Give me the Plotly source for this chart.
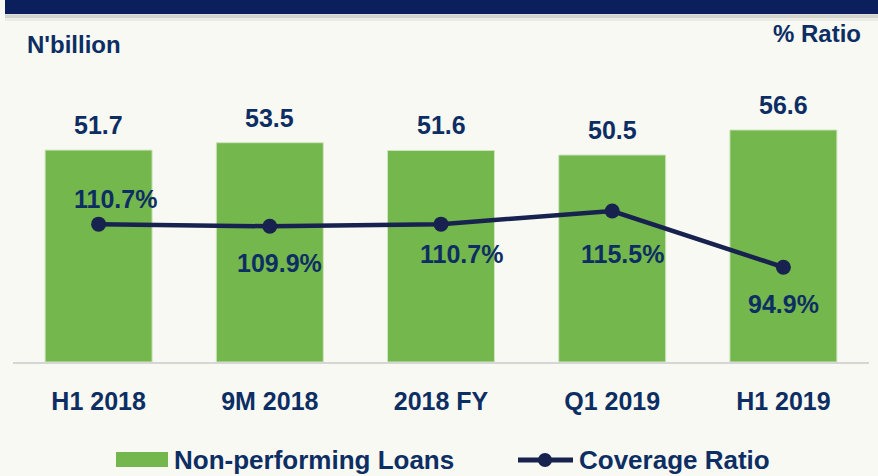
import plotly.graph_objects as go

# Data
periods = ["H1 2018", "9M 2018", "2018 FY", "Q1 2019", "H1 2019"]
npl_bn = [51.7, 53.5, 51.6, 50.5, 56.6]
coverage_pct = [110.7, 109.9, 110.7, 115.5, 94.9]

# Canvas and plot-area geometry (pixels)
W, H = 878, 476
ML, MR, MT, MB = 13, 9, 15, 114
PW, PH = W - ML - MR, H - MT - MB

NAVY = "#0d2e63"
LINE = "#17224f"
GREEN = "#74b74c"
FONT = "Liberation Sans, Arial, sans-serif"


def px(x):
    return (x - ML) / PW


def py(y):
    return (H - MB - y) / PH


fig = go.Figure()

fig.add_trace(go.Bar(
    x=periods, y=npl_bn, name="Non-performing Loans",
    marker=dict(color=GREEN, line=dict(color="#cfe5c0", width=1)),
    width=0.625, showlegend=False, hoverinfo="x+y",
))

fig.add_trace(go.Scatter(
    x=periods, y=coverage_pct, name="Coverage Ratio", yaxis="y2",
    mode="lines+markers",
    line=dict(color=LINE, width=4.5),
    marker=dict(color=LINE, size=15),
    showlegend=False,
))

annotations = []

# Bar value labels
for p, v in zip(periods, npl_bn):
    annotations.append(dict(
        x=p, y=v, xref="x", yref="y", text=f"<b>{v:.1f}</b>",
        showarrow=False, yanchor="middle", yshift=25,
        font=dict(family=FONT, size=25, color=NAVY),
    ))

# Coverage ratio labels (pixel offsets from each marker)
label_offsets = [(17, 25), (10, -37), (20, -30), (10, -43), (0, -37)]
for p, v, (dx, dy) in zip(periods, coverage_pct, label_offsets):
    annotations.append(dict(
        x=p, y=v, xref="x", yref="y2", text=f"<b>{v:.1f}%</b>",
        showarrow=False, yanchor="middle", xshift=dx, yshift=dy,
        font=dict(family=FONT, size=25, color=NAVY),
    ))

# Axis unit captions
annotations.append(dict(
    x=px(25), y=py(45), xref="paper", yref="paper", text="<b>N'billion</b>",
    showarrow=False, xanchor="left", yanchor="middle",
    font=dict(family=FONT, size=24, color=NAVY),
))
annotations.append(dict(
    x=px(863), y=py(34), xref="paper", yref="paper", text="<b>% Ratio</b>",
    showarrow=False, xanchor="right", yanchor="middle",
    font=dict(family=FONT, size=24, color=NAVY),
))

# Legend entries
annotations.append(dict(
    x=px(172), y=py(460), xref="paper", yref="paper",
    text="<b>Non-performing Loans</b>",
    showarrow=False, xanchor="left", yanchor="middle",
    font=dict(family=FONT, size=26, color=NAVY),
))
annotations.append(dict(
    x=px(577), y=py(460), xref="paper", yref="paper",
    text="<b>Coverage Ratio</b>",
    showarrow=False, xanchor="left", yanchor="middle",
    font=dict(family=FONT, size=26, color=NAVY),
))

shapes = [
    # header banner with soft shadow
    dict(type="rect", xref="paper", yref="paper", x0=px(5), x1=px(W + 2),
         y0=py(21), y1=py(15), fillcolor="rgba(0,0,0,0.05)", line_width=0, layer="below"),
    dict(type="rect", xref="paper", yref="paper", x0=px(5), x1=px(W + 2),
         y0=py(18), y1=py(14), fillcolor="rgba(0,0,0,0.10)", line_width=0, layer="below"),
    dict(type="rect", xref="paper", yref="paper", x0=px(5), x1=px(W + 2),
         y0=py(14), y1=py(-2), fillcolor="#0b1f5c", line_width=0),
    # legend swatch for bars
    dict(type="rect", xref="paper", yref="paper", x0=px(116), x1=px(168),
         y0=py(467), y1=py(452), fillcolor=GREEN, line_width=0),
    # legend sample for line
    dict(type="line", xref="paper", yref="paper", x0=px(518), x1=px(573),
         y0=py(460), y1=py(460), line=dict(color=LINE, width=5)),
    dict(type="circle", xref="paper", yref="paper", x0=px(538), x1=px(552),
         y0=py(467), y1=py(453), fillcolor=LINE, line_width=0),
]

fig.update_layout(
    width=W, height=H,
    margin=dict(l=ML, r=MR, t=MT, b=MB, autoexpand=False),
    paper_bgcolor="#f9f9f4",
    plot_bgcolor="rgba(0,0,0,0)",
    bargap=0.375,
    font=dict(family=FONT, color=NAVY),
    xaxis=dict(
        tickvals=periods, ticktext=[f"<b>{p}</b>" for p in periods],
        tickfont=dict(family=FONT, size=25, color=NAVY),
        ticks="outside", ticklen=16, tickcolor="rgba(0,0,0,0)",
        showline=True, linecolor="#d6d6d6", linewidth=2,
        showgrid=False, zeroline=False,
    ),
    yaxis=dict(range=[0, 84.65], visible=False, showgrid=False, zeroline=False),
    yaxis2=dict(range=[60.2, 187.3], overlaying="y", side="right",
                visible=False, showgrid=False, zeroline=False),
    annotations=annotations,
    shapes=shapes,
)

fig.write_html("out.html")
